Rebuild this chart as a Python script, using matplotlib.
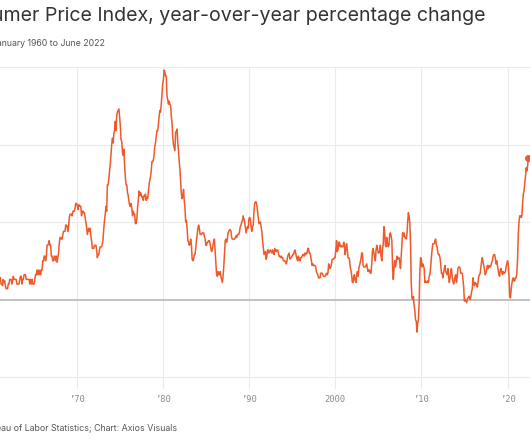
import matplotlib
matplotlib.use("Agg")
import matplotlib.pyplot as plt
import numpy as np
import pandas as pd

# Monthly CPI-U year-over-year % change, Jan 1960 - Jun 2022
cpi_1960s = [
    1.0, 1.7, 1.5, 1.9, 1.9, 1.7, 1.4, 1.4, 1.2, 1.4, 1.4, 1.4,
    1.7, 1.4, 1.4, 1.0, 1.0, 0.9, 1.3, 1.1, 1.2, 0.9, 0.7, 0.7,
    0.7, 1.0, 1.0, 1.3, 1.3, 1.3, 1.0, 1.2, 1.5, 1.3, 1.3, 1.3,
    1.3, 1.0, 1.0, 1.0, 1.0, 1.3, 1.5, 1.5, 1.0, 1.3, 1.3, 1.6,
    1.6, 1.6, 1.3, 1.3, 1.3, 1.3, 1.3, 1.0, 1.3, 1.0, 1.3, 1.0,
    1.0, 1.0, 1.3, 1.6, 1.6, 1.9, 1.6, 1.9, 1.6, 1.9, 1.6, 1.9,
    1.9, 2.5, 2.5, 2.8, 2.8, 2.5, 2.8, 3.5, 3.5, 3.6, 3.8, 3.5,
    3.5, 2.8, 2.8, 2.5, 2.5, 2.8, 2.8, 2.5, 2.8, 2.4, 2.7, 3.0,
    3.6, 4.0, 4.0, 3.9, 3.9, 4.2, 4.4, 4.4, 4.4, 4.8, 4.8, 4.7,
    4.4, 4.7, 5.3, 5.5, 5.5, 5.5, 5.4, 5.7, 5.7, 5.7, 5.9, 6.2,
]
cpi_1970s = [
    6.2, 6.1, 5.8, 6.1, 6.1, 6.0, 6.0, 5.4, 5.7, 5.7, 5.6, 5.6,
    5.3, 5.0, 4.7, 4.2, 4.4, 4.6, 4.4, 4.6, 4.1, 3.8, 3.3, 3.3,
    3.3, 3.5, 3.5, 3.5, 3.2, 2.7, 2.9, 2.9, 3.2, 3.4, 3.4, 3.4,
    3.6, 3.9, 4.6, 5.1, 5.5, 6.0, 5.7, 7.4, 7.4, 7.8, 8.3, 8.7,
    9.4, 10.0, 10.4, 10.1, 10.7, 10.9, 11.5, 10.9, 11.9, 12.1, 12.2, 12.3,
    11.8, 11.2, 10.3, 10.2, 9.5, 9.3, 9.7, 8.6, 7.9, 7.4, 7.4, 6.9,
    6.7, 6.3, 6.1, 6.0, 6.2, 5.9, 5.4, 5.7, 5.5, 5.5, 4.9, 4.9,
    5.2, 5.9, 6.4, 7.0, 6.7, 6.9, 6.8, 6.6, 6.6, 6.4, 6.7, 6.7,
    6.8, 6.4, 6.6, 6.5, 6.9, 7.4, 7.7, 7.9, 8.3, 8.9, 8.9, 9.0,
    9.3, 9.9, 10.1, 10.5, 10.9, 10.9, 11.3, 11.8, 12.2, 12.1, 12.6, 13.3,
]
cpi_1980s = [
    13.9, 14.2, 14.8, 14.7, 14.4, 14.4, 13.1, 12.9, 12.6, 12.8, 12.6, 12.5,
    11.8, 11.4, 10.5, 10.0, 9.8, 9.6, 10.8, 10.8, 11.0, 10.1, 9.6, 8.9,
    8.4, 7.6, 6.8, 6.5, 6.7, 7.1, 6.4, 5.9, 5.0, 5.1, 4.6, 3.8,
    3.7, 3.5, 3.6, 3.9, 3.5, 2.6, 2.5, 2.6, 2.9, 2.9, 3.3, 3.8,
    4.2, 4.6, 4.8, 4.6, 4.2, 4.2, 4.2, 4.3, 4.3, 4.3, 4.1, 3.9,
    3.5, 3.5, 3.7, 3.7, 3.8, 3.8, 3.6, 3.3, 3.1, 3.2, 3.5, 3.8,
    3.9, 3.1, 2.2, 1.6, 1.5, 1.8, 1.6, 1.6, 1.8, 1.5, 1.3, 1.1,
    1.5, 2.1, 3.0, 3.8, 3.9, 3.7, 3.9, 4.3, 4.4, 4.5, 4.5, 4.4,
    4.0, 3.9, 3.9, 3.9, 3.9, 4.0, 4.1, 4.0, 4.2, 4.2, 4.2, 4.4,
    4.7, 4.8, 5.0, 5.1, 5.4, 5.2, 5.0, 4.7, 4.3, 4.5, 4.7, 4.6,
]
cpi_1990s = [
    5.2, 5.3, 5.2, 4.7, 4.4, 4.7, 4.8, 5.6, 6.2, 6.3, 6.3, 6.1,
    5.7, 5.3, 4.9, 4.9, 5.0, 4.7, 4.4, 3.8, 3.4, 2.9, 3.0, 3.1,
    2.6, 2.8, 3.2, 3.2, 3.0, 3.1, 3.2, 3.1, 3.0, 3.2, 3.0, 2.9,
    3.3, 3.2, 3.1, 3.2, 3.2, 3.0, 2.8, 2.8, 2.7, 2.8, 2.7, 2.7,
    2.5, 2.5, 2.5, 2.4, 2.3, 2.5, 2.8, 2.9, 3.0, 2.6, 2.7, 2.7,
    2.8, 2.9, 2.9, 3.1, 3.2, 3.0, 2.8, 2.6, 2.5, 2.8, 2.6, 2.5,
    2.7, 2.7, 2.8, 2.9, 2.9, 2.8, 3.0, 2.9, 3.0, 3.0, 3.3, 3.3,
    3.0, 3.0, 2.8, 2.5, 2.2, 2.3, 2.2, 2.2, 2.2, 2.1, 1.8, 1.7,
    1.6, 1.4, 1.4, 1.4, 1.7, 1.7, 1.7, 1.6, 1.5, 1.5, 1.5, 1.6,
    1.7, 1.6, 1.7, 2.3, 2.1, 2.0, 2.1, 2.3, 2.6, 2.6, 2.6, 2.7,
]
cpi_2000s = [
    2.7, 3.2, 3.8, 3.1, 3.2, 3.7, 3.7, 3.4, 3.5, 3.4, 3.4, 3.4,
    3.7, 3.5, 2.9, 3.3, 3.6, 3.2, 2.7, 2.7, 2.6, 2.1, 1.9, 1.6,
    1.1, 1.1, 1.5, 1.6, 1.2, 1.1, 1.5, 1.8, 1.5, 2.0, 2.2, 2.4,
    2.6, 3.0, 3.0, 2.2, 2.1, 2.1, 2.1, 2.2, 2.3, 2.0, 1.8, 1.9,
    1.9, 1.7, 1.7, 2.3, 3.1, 3.3, 3.0, 2.7, 2.5, 3.2, 3.5, 3.3,
    3.0, 3.0, 3.1, 3.5, 2.8, 2.5, 3.2, 3.6, 4.7, 4.3, 3.5, 3.4,
    4.0, 3.6, 3.4, 3.5, 4.2, 4.3, 4.1, 3.8, 2.1, 1.3, 2.0, 2.5,
    2.1, 2.4, 2.8, 2.6, 2.7, 2.7, 2.4, 2.0, 2.8, 3.5, 4.3, 4.1,
    4.3, 4.0, 4.0, 3.9, 4.2, 5.0, 5.6, 5.4, 4.9, 3.7, 1.1, 0.1,
    0.0, 0.2, -0.4, -0.7, -1.3, -1.4, -2.1, -1.5, -1.3, -0.2, 1.8, 2.7,
]
cpi_2010s = [
    2.6, 2.1, 2.3, 2.2, 2.0, 1.1, 1.2, 1.1, 1.1, 1.2, 1.1, 1.5,
    1.6, 2.1, 2.7, 3.2, 3.6, 3.6, 3.6, 3.8, 3.9, 3.5, 3.4, 3.0,
    2.9, 2.9, 2.7, 2.3, 1.7, 1.7, 1.4, 1.7, 2.0, 2.2, 1.8, 1.7,
    1.6, 2.0, 1.5, 1.1, 1.4, 1.8, 2.0, 1.5, 1.2, 1.0, 1.2, 1.5,
    1.6, 1.1, 1.5, 2.0, 2.1, 2.1, 2.0, 1.7, 1.7, 1.7, 1.3, 0.8,
    -0.1, 0.0, -0.1, -0.2, 0.0, 0.1, 0.2, 0.2, 0.0, 0.2, 0.5, 0.7,
    1.4, 1.0, 0.9, 1.1, 1.0, 1.0, 0.8, 1.1, 1.5, 1.6, 1.7, 2.1,
    2.5, 2.7, 2.4, 2.2, 1.9, 1.6, 1.7, 1.9, 2.2, 2.0, 2.2, 2.1,
    2.1, 2.2, 2.4, 2.5, 2.8, 2.9, 2.9, 2.7, 2.3, 2.5, 2.2, 1.9,
    1.6, 1.5, 1.9, 2.0, 1.8, 1.6, 1.8, 1.7, 1.7, 1.8, 2.1, 2.3,
]
cpi_2020s = [
    2.5, 2.3, 1.5, 0.3, 0.1, 0.6, 1.0, 1.3, 1.4, 1.2, 1.2, 1.4,
    1.4, 1.7, 2.6, 4.2, 5.0, 5.4, 5.4, 5.3, 5.4, 6.2, 6.8, 7.0,
    7.5, 7.9, 8.5, 8.3, 8.6, 9.1,
]

tick_years = [1970, 1980, 1990, 2000, 2010, 2020]
tick_labels = ["\u201970", "\u201980", "\u201990", "2000", "\u201910", "\u201920"]
grid_values = [-5, 5, 10, 15]

title = "Consumer Price Index, year-over-year percentage change"
subtitle = "January 1960 to June 2022"
source = "Data: Bureau of Labor Statistics; Chart: Axios Visuals"

values = np.array(cpi_1960s + cpi_1970s + cpi_1980s + cpi_1990s
                  + cpi_2000s + cpi_2010s + cpi_2020s)
dates = pd.date_range("1960-01-01", periods=len(values), freq="MS")
x = dates.year + (dates.month - 1) / 12.0

W, H = 530, 442
fig = plt.figure(figsize=(W / 100, H / 100), dpi=100)
fig.patch.set_facecolor("white")

top_px, bot_px = 67, 389
ax = fig.add_axes([0, 1 - bot_px / H, 1, (bot_px - top_px) / H])
ax.set_xlim(1961.125, 2022.61)
ax.set_ylim(-5.77, 15)

for g in grid_values:
    ax.axhline(g, color="#ebebeb", lw=0.8, zorder=1, clip_on=False)
for t in tick_years:
    ax.axvline(t, color="#ebebeb", lw=0.8, zorder=1)
ax.axhline(0, color="#bdbdbd", lw=1.3, zorder=2)

line_color = "#EE5A2C"
ax.plot(x, values, color=line_color, lw=1.1, zorder=3, solid_joinstyle="round")
ax.plot([x[-1]], [values[-1]], "o", color=line_color, ms=4, zorder=4, clip_on=False)

for s in ax.spines.values():
    s.set_visible(False)
ax.set_yticks([])
ax.set_xticks(tick_years)
ax.set_xticklabels(tick_labels, family="DejaVu Sans Mono", fontsize=6.3, color="#8a8a8a")
ax.tick_params(axis="x", length=0, pad=4)

fig.text(485 / W, 1 - 21 / H, title, ha="right", va="baseline",
         fontsize=14.1, family="Inter", color="#333333")
fig.text(105 / W, 1 - 46 / H, subtitle, ha="right", va="baseline",
         fontsize=6.3, family="Inter", color="#555555")
fig.text(177 / W, 1 - 431 / H, source, ha="right", va="baseline",
         fontsize=6.35, family="Inter", color="#555555")

fig.savefig("out.png", dpi=100, facecolor="white")
